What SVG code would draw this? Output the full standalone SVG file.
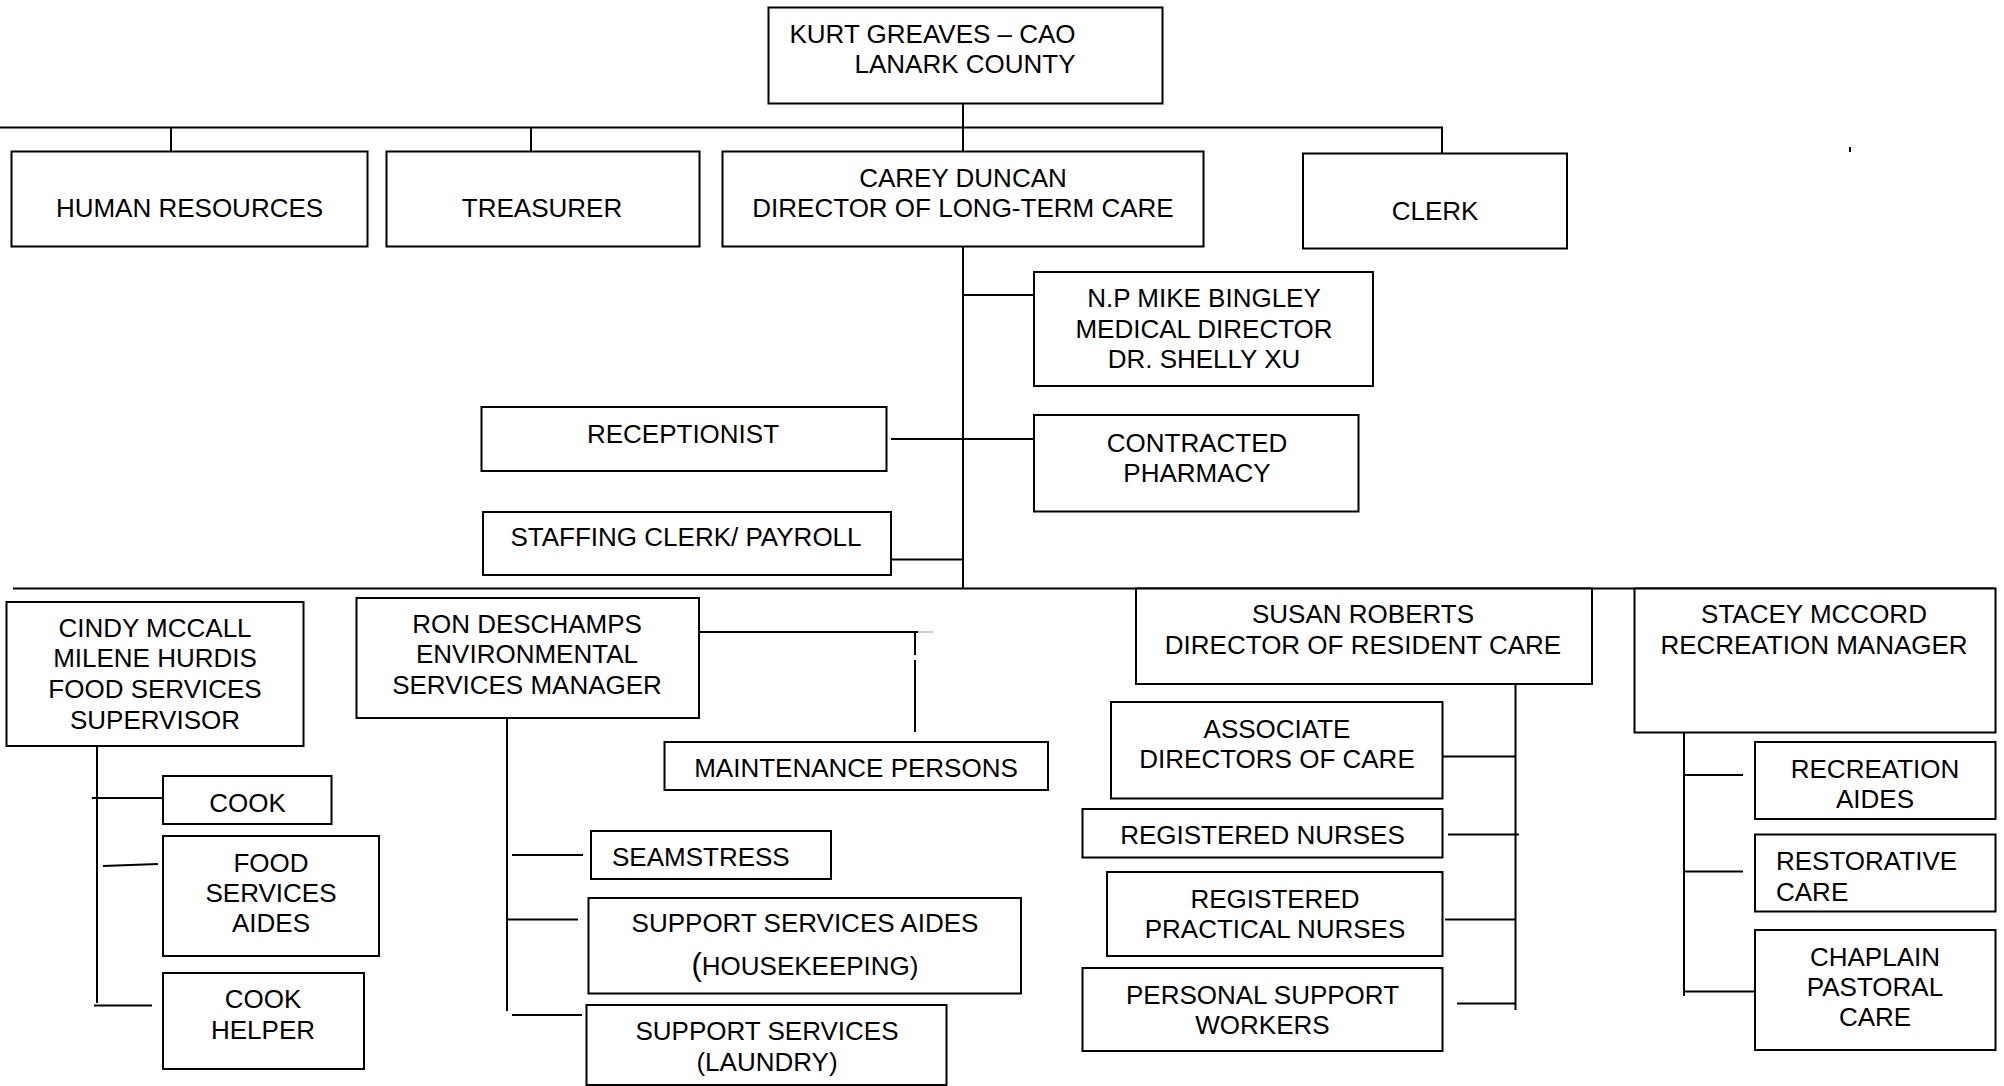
<svg xmlns="http://www.w3.org/2000/svg" width="2004" height="1086" viewBox="0 0 2004 1086">
<style>
rect{fill:#fff;stroke:#000;stroke-width:2}
.c line,.c path{stroke:#000;stroke-width:2;fill:none}
text{font-family:"Liberation Sans",Arial,sans-serif;font-size:26px;fill:#000;text-anchor:middle}
.l{text-anchor:start}
</style>
<rect x="0" y="0" width="2004" height="1086" style="stroke:none"/>
<g class="c" id="connectors">
<line x1="963" y1="104" x2="963" y2="588"/>
<path d="M0 127.5H1442V153"/>
<line x1="171" y1="127.5" x2="171" y2="151"/>
<line x1="531" y1="127.5" x2="531" y2="151"/>
<line x1="1850" y1="147" x2="1850" y2="152"/>
<line x1="963" y1="295" x2="1035" y2="295"/>
<line x1="891" y1="439" x2="1035" y2="439"/>
<line x1="891" y1="559.5" x2="963" y2="559.5"/>
<line x1="13" y1="588.5" x2="1995" y2="588.5"/>
<line x1="97" y1="746" x2="97" y2="1003"/>
<line x1="92" y1="798" x2="163" y2="798"/>
<line x1="103" y1="866" x2="158" y2="864"/>
<line x1="94" y1="1005.5" x2="152" y2="1005.5"/>
<line x1="507.5" y1="632" x2="507.5" y2="664"/>
<line x1="507" y1="710" x2="507" y2="1011"/>
<line x1="699" y1="632" x2="918" y2="632"/>
<line x1="918" y1="632" x2="933" y2="632" style="stroke:#ccc"/>
<line x1="915" y1="632" x2="915" y2="655"/>
<line x1="915" y1="660" x2="915" y2="732"/>
<line x1="512" y1="855" x2="583" y2="855"/>
<line x1="507" y1="919.5" x2="578" y2="919.5"/>
<line x1="512" y1="1015" x2="582" y2="1015"/>
<line x1="1515.5" y1="684" x2="1515.5" y2="1010"/>
<line x1="1442" y1="756.5" x2="1515.5" y2="756.5"/>
<line x1="1448" y1="834.5" x2="1519" y2="834.5"/>
<line x1="1445" y1="919.5" x2="1515.5" y2="919.5"/>
<line x1="1457" y1="1003.5" x2="1515.5" y2="1003.5"/>
<line x1="1684" y1="732" x2="1684" y2="996"/>
<line x1="1684" y1="775" x2="1743" y2="775"/>
<line x1="1684" y1="871.5" x2="1743" y2="871.5"/>
<line x1="1684" y1="991.5" x2="1755" y2="991.5"/>
</g>
<g id="cao"><rect x="768.5" y="7.5" width="394" height="96"/><text class="l" x="789.5" y="43">KURT GREAVES – CAO</text><text class="l" x="854.5" y="73">LANARK COUNTY</text></g>
<g id="hr"><rect x="11.5" y="151.5" width="356" height="95"/><text x="189.5" y="217">HUMAN RESOURCES</text></g>
<g id="treasurer"><rect x="386.5" y="151.5" width="313" height="95"/><text x="542" y="217">TREASURER</text></g>
<g id="carey"><rect x="722.5" y="151.5" width="481" height="95"/><text x="963" y="187">CAREY DUNCAN</text><text x="963" y="217">DIRECTOR OF LONG-TERM CARE</text></g>
<g id="clerk"><rect x="1303" y="153.5" width="264" height="95"/><text x="1435" y="220">CLERK</text></g>
<g id="medical"><rect x="1034" y="272" width="339" height="114"/><text x="1204" y="307">N.P MIKE BINGLEY</text><text x="1204" y="338">MEDICAL  DIRECTOR</text><text x="1204" y="368">DR. SHELLY XU</text></g>
<g id="pharmacy"><rect x="1034" y="415" width="324.5" height="96.5"/><text x="1197" y="452">CONTRACTED</text><text x="1197" y="482">PHARMACY</text></g>
<g id="receptionist"><rect x="481.5" y="407" width="405" height="64"/><text x="683" y="443">RECEPTIONIST</text></g>
<g id="staffing"><rect x="483" y="512" width="408" height="63"/><text x="686" y="546">STAFFING CLERK/ PAYROLL</text></g>
<g id="cindy"><rect x="6.5" y="602" width="297" height="144"/><text x="155" y="637">CINDY MCCALL</text><text x="155" y="667">MILENE HURDIS</text><text x="155" y="698">FOOD SERVICES</text><text x="155" y="729">SUPERVISOR</text></g>
<g id="cook"><rect x="163" y="776" width="168.5" height="48"/><text x="247.5" y="812">COOK</text></g>
<g id="food-aides"><rect x="163" y="836" width="216" height="120"/><text x="271" y="872">FOOD</text><text x="271" y="902">SERVICES</text><text x="271" y="932">AIDES</text></g>
<g id="cook-helper"><rect x="163" y="973" width="201" height="96"/><text x="263" y="1008">COOK</text><text x="263" y="1039">HELPER</text></g>
<g id="ron"><rect x="356.5" y="598" width="342.5" height="120"/><text x="527" y="633">RON DESCHAMPS</text><text x="527" y="663">ENVIRONMENTAL</text><text x="527" y="694">SERVICES MANAGER</text></g>
<g id="maintenance"><rect x="664.5" y="742" width="383.5" height="48"/><text x="856" y="777">MAINTENANCE PERSONS</text></g>
<g id="seamstress"><rect x="591" y="831" width="240" height="48"/><text class="l" x="612" y="866">SEAMSTRESS</text></g>
<g id="housekeeping"><rect x="588.5" y="898" width="432.5" height="95.5"/><text x="805" y="932">SUPPORT SERVICES AIDES</text><text x="805" y="975"><tspan font-size="31">(</tspan>HOUSEKEEPING)</text></g>
<g id="laundry"><rect x="586.5" y="1005" width="360" height="80"/><text x="767" y="1040">SUPPORT SERVICES</text><text x="767" y="1071">(LAUNDRY)</text></g>
<g id="susan"><rect x="1136" y="588.5" width="456" height="95.5"/><text x="1363" y="623">SUSAN ROBERTS</text><text x="1363" y="654">DIRECTOR OF  RESIDENT CARE</text></g>
<g id="stacey"><rect x="1634.5" y="588.5" width="361" height="144"/><text x="1814" y="623">STACEY MCCORD</text><text x="1814" y="654">RECREATION MANAGER</text></g>
<g id="associate"><rect x="1111" y="702" width="331.5" height="96.5"/><text x="1277" y="738">ASSOCIATE</text><text x="1277" y="768">DIRECTORS OF CARE</text></g>
<g id="rn"><rect x="1082.5" y="809" width="360" height="48.5"/><text x="1262.5" y="844">REGISTERED NURSES</text></g>
<g id="rpn"><rect x="1107" y="872" width="335.5" height="84"/><text x="1275" y="908">REGISTERED</text><text x="1275" y="938">PRACTICAL NURSES</text></g>
<g id="psw"><rect x="1082.5" y="968" width="360" height="83"/><text x="1262.5" y="1004">PERSONAL SUPPORT</text><text x="1262.5" y="1034">WORKERS</text></g>
<g id="rec-aides"><rect x="1755" y="742" width="240.5" height="77"/><text x="1875" y="778">RECREATION</text><text x="1875" y="808">AIDES</text></g>
<g id="restorative"><rect x="1755" y="834.5" width="240.5" height="77"/><text class="l" x="1776" y="870">RESTORATIVE</text><text class="l" x="1776" y="901">CARE</text></g>
<g id="chaplain"><rect x="1755" y="930" width="240.5" height="120"/><text x="1875" y="966">CHAPLAIN</text><text x="1875" y="996">PASTORAL</text><text x="1875" y="1026">CARE</text></g>
</svg>
